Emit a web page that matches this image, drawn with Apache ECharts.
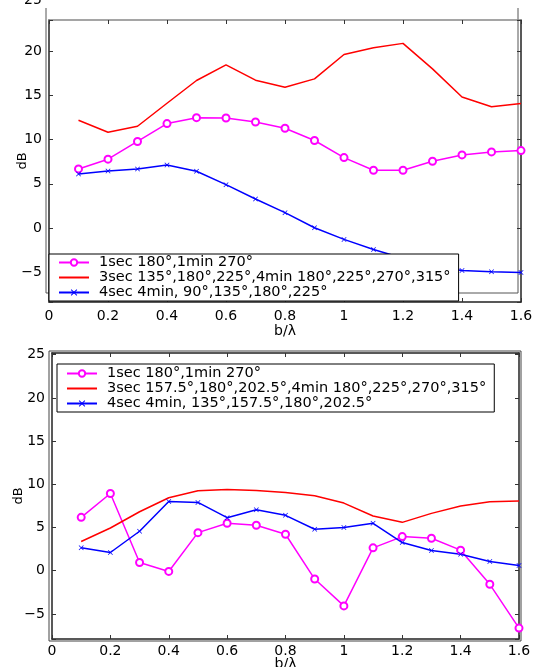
<!DOCTYPE html>
<html>
<head>
<meta charset="utf-8">
<title>dB vs b/λ</title>
<script src="https://cdn.jsdelivr.net/npm/echarts@6/dist/echarts.min.js"></script>
</head>
<body style="margin:0;background:#fff">
<div id="main" style="width:538px;height:667px;"></div>
<script>
// b/lambda positions (same for both panels)
var bl = [0.1, 0.2, 0.3, 0.4, 0.5, 0.6, 0.7, 0.8, 0.9, 1.0, 1.1, 1.2, 1.3, 1.4, 1.5, 1.6];

// top panel
var names1 = ['1sec 180°,1min 270°', '3sec 135°,180°,225°,4min 180°,225°,270°,315°', '4sec 4min, 90°,135°,180°,225°'];
var magentaTop = [6.68, 7.78, 9.78, 11.8, 12.47, 12.43, 11.98, 11.27, 9.89, 7.96, 6.53, 6.53, 7.55, 8.26, 8.6, 8.75];
var redTop = [12.17, 10.82, 11.5, 14.1, 16.67, 18.43, 16.7, 15.9, 16.85, 19.6, 20.37, 20.86, 17.98, 14.8, 13.7, 14.08];
var blueTop = [6.11, 6.45, 6.68, 7.13, 6.42, 4.9, 3.28, 1.74, 0.04, -1.28, -2.42, -3.4, -4.3, -4.8, -4.94, -5.02];

// bottom panel
var names2 = ['1sec 180°,1min 270°', '3sec 157.5°,180°,202.5°,4min 180°,225°,270°,315°', '4sec 4min, 135°,157.5°,180°,202.5°'];
var magentaBot = [6.18, 8.94, 0.96, -0.08, 4.41, 5.49, 5.26, 4.22, -0.96, -4.07, 2.65, 3.95, 3.76, 2.38, -1.57, -6.64];
var redBot = [3.38, 4.95, 6.83, 8.45, 9.25, 9.4, 9.29, 9.06, 8.68, 7.83, 6.33, 5.6, 6.64, 7.49, 7.98, 8.06];
var blueBot = [2.65, 2.11, 4.57, 8.02, 7.91, 6.14, 7.06, 6.41, 4.8, 5.0, 5.49, 3.26, 2.34, 1.92, 1.07, 0.61];

var FONT = '"DejaVu Sans", "Liberation Sans", sans-serif';
var xMark = 'path://M0,1L1,0L5,4L9,0L10,1L6,5L10,9L9,10L5,6L1,10L0,9L4,5Z';

function pairs(vals) {
    var out = [];
    for (var i = 0; i < bl.length; i++) out.push([bl[i], vals[i]]);
    return out;
}

function yLabel(v) {
    if (Math.abs(v % 5) > 1e-6) return '';
    return String(v).replace('-', '\u2212');
}

function xAx(grid, pos, color, labels, name, nameGap, margin) {
    return {
        type: 'value', gridIndex: grid, position: pos, min: 0, max: 1.6, interval: 0.2,
        axisLine: {show: true, onZero: false, lineStyle: {color: color, width: 1.5}},
        axisTick: {show: true, inside: true, length: 4, lineStyle: {color: '#333'}},
        axisLabel: {show: labels, color: '#000', fontSize: 14, fontFamily: FONT, margin: margin},
        splitLine: {show: false},
        name: name, nameLocation: 'middle', nameGap: nameGap, nameMoveOverlap: false,
        nameTextStyle: {color: '#000', fontSize: 14, fontFamily: FONT}
    };
}

function yAx(grid, pos, color, labels, min, max, nameGap) {
    return {
        type: 'value', gridIndex: grid, position: pos, min: min, max: max, splitNumber: 5,
        axisLine: {show: true, onZero: false, lineStyle: {color: color, width: 1.5}},
        axisTick: {show: true, inside: true, length: 4, lineStyle: {color: '#333'}},
        axisLabel: {show: labels, color: '#000', fontSize: 14, fontFamily: FONT, margin: 7, formatter: yLabel,
            showMinLabel: true, showMaxLabel: true},
        splitLine: {show: false},
        name: labels ? 'dB' : '', nameLocation: 'middle', nameGap: nameGap, nameRotate: 90, nameMoveOverlap: false,
        nameTextStyle: {color: '#000', fontSize: 13, fontFamily: FONT}
    };
}

function legendBox(top, left, pad, names) {
    return {
        orient: 'vertical', left: left, top: top, padding: pad, itemGap: 0,
        itemWidth: 30, itemHeight: 8, selectedMode: false,
        data: [
            {name: names[0]},
            {name: names[1], itemStyle: {opacity: 0}},
            {name: names[2]}
        ],
        backgroundColor: '#fff', borderColor: '#000', borderWidth: 1, borderRadius: 0, z: 10,
        textStyle: {color: '#000', fontSize: 14.5, fontFamily: FONT, lineHeight: 15, padding: [0, 0, 0, 5]}
    };
}

function magenta(name, xi, yi, vals) {
    return {
        name: name, type: 'line', xAxisIndex: xi, yAxisIndex: yi, data: pairs(vals),
        symbol: 'emptyCircle', symbolSize: 7, showAllSymbol: true,
        lineStyle: {color: '#ff00ff', width: 1.5},
        itemStyle: {color: '#ff00ff', borderColor: '#ff00ff', borderWidth: 1.5},
        animation: false
    };
}
function red(name, xi, yi, vals) {
    return {
        name: name, type: 'line', xAxisIndex: xi, yAxisIndex: yi, data: pairs(vals),
        symbol: 'none', lineStyle: {color: '#ff0000', width: 1.5}, itemStyle: {color: '#ff0000'},
        animation: false
    };
}
function blue(name, xi, yi, vals) {
    return {
        name: name, type: 'line', xAxisIndex: xi, yAxisIndex: yi, data: pairs(vals),
        symbol: xMark, symbolSize: 5, showAllSymbol: true,
        lineStyle: {color: '#0000ff', width: 1.5}, itemStyle: {color: '#0000ff'},
        animation: false
    };
}

var myChart = echarts.init(document.getElementById('main'));
var option = {
    backgroundColor: '#fff',
    animation: false,
    grid: [
        {left: 49, right: 17, top: 20, bottom: 365, outerBoundsMode: 'none'},
        {left: 52, right: 19, top: 353, bottom: 28, outerBoundsMode: 'none'}
    ],
    xAxis: [
        xAx(0, 'bottom', '#222', true, 'b/\u03bb', 22, 7),
        xAx(0, 'top', '#888', false, '', 0, 0),
        xAx(1, 'bottom', '#222', true, 'b/\u03bb', 18, 5),
        xAx(1, 'top', '#222', false, '', 0, 0)
    ],
    yAxis: [
        yAx(0, 'left', '#222', true, -8.35, 23.5, 20),
        yAx(0, 'right', '#222', false, -8.35, 23.5, 0),
        yAx(1, 'left', '#222', true, -7.9, 25.2, 27),
        yAx(1, 'right', '#222', false, -7.9, 25.2, 0)
    ],
    legend: [
        legendBox(254, 49, [1, 8, 1, 9], names1),
        legendBox(364, 57, [2, 8, 1, 9], names2)
    ],
    graphic: [
        {type: 'text', left: 24, top: -7, style: {text: '25', fill: '#000', font: '14px ' + FONT}},
        {type: 'polyline', silent: true, shape: {points: [[46, 8], [46, 293], [518, 293], [518, 8]]},
            style: {stroke: '#555', lineWidth: 1, fill: null}},
        {type: 'rect', silent: true, shape: {x: 49, y: 351, width: 472, height: 290},
            style: {stroke: '#444', lineWidth: 1, fill: null}}
    ],
    series: [
        magenta(names1[0], 0, 0, magentaTop),
        red(names1[1], 0, 0, redTop),
        blue(names1[2], 0, 0, blueTop),
        magenta(names2[0], 2, 2, magentaBot),
        red(names2[1], 2, 2, redBot),
        blue(names2[2], 2, 2, blueBot)
    ]
};
myChart.setOption(option);
</script>
</body>
</html>
